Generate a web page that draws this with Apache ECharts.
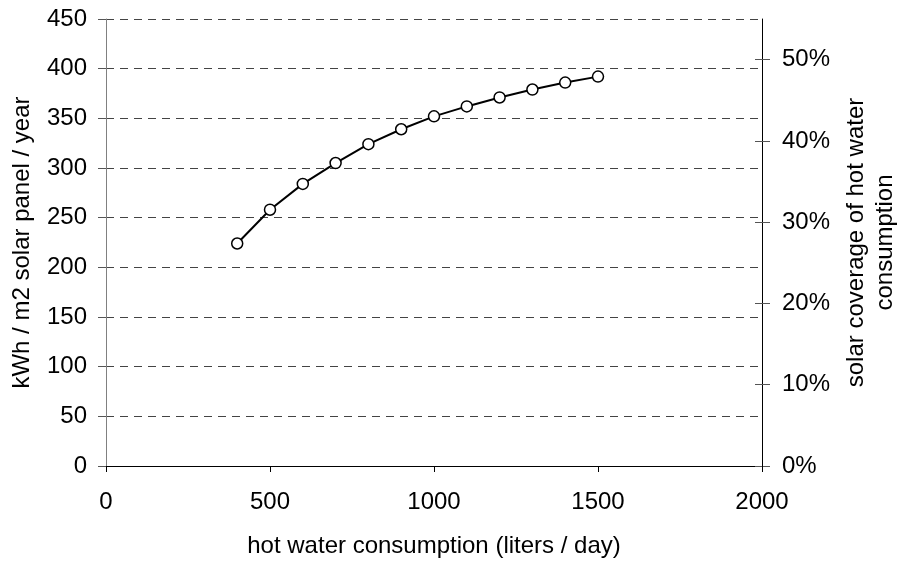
<!DOCTYPE html>
<html>
<head>
<meta charset="utf-8">
<script src="https://cdn.jsdelivr.net/npm/echarts@6/dist/echarts.min.js"></script>
<style>
  html, body { margin: 0; padding: 0; background: #fff; }
  #main { width: 901px; height: 561px; }
</style>
</head>
<body>
<div id="main"></div>
<script>
// hot water consumption (liters / day)
var litersPerDay = [400, 500, 600, 700, 800, 900, 1000, 1100, 1200, 1300, 1400, 1500];
// kWh / m2 solar panel / year
var kwhPerM2 = [224, 258, 284, 305, 324, 339, 352, 362, 371, 379, 386, 392];
// right axis ticks (percent)
var coverageTicks = [0, 10, 20, 30, 40, 50];

var FONT = 'Liberation Sans, Arial, sans-serif';
var FS = 24;

var chart = echarts.init(document.getElementById('main'), null, { renderer: 'canvas' });

var points = litersPerDay.map(function(x, i) {
    return [x, kwhPerM2[i]];
});

var option = {
    backgroundColor: '#fff',
    animation: false,
    textStyle: { fontFamily: FONT, color: '#000' },
    grid: {
        left: 106,
        right: 139,
        top: 19,
        bottom: 95,
        containLabel: false,
        outerBoundsMode: 'none'
    },
    xAxis: {
        type: 'value',
        min: 0,
        max: 2000,
        interval: 500,
        name: 'hot water consumption (liters / day)',
        nameLocation: 'middle',
        nameGap: 68,
        nameTextStyle: { fontFamily: FONT, fontSize: FS, color: '#000' },
        axisLine: { show: true, onZero: false, lineStyle: { color: '#000', width: 1 } },
        axisTick: { show: true, inside: false, length: 6, lineStyle: { color: '#000' } },
        axisLabel: {
            margin: 24, fontFamily: FONT, fontSize: FS, color: '#000',
            formatter: function(v) { return String(v); }
        },
        splitLine: { show: false }
    },
    yAxis: [
        {
            type: 'value',
            position: 'left',
            min: 0,
            max: 450,
            interval: 50,
            name: 'kWh / m2 solar panel / year',
            nameLocation: 'middle',
            nameGap: 72,
            nameTextStyle: { fontFamily: FONT, fontSize: FS, color: '#000' },
            axisLine: { show: true, lineStyle: { color: '#808080', width: 1 } },
            axisTick: { show: true, inside: false, length: 8, lineStyle: { color: '#555' } },
            axisLabel: { margin: 19, fontFamily: FONT, fontSize: FS, color: '#000' },
            splitLine: {
                show: true,
                lineStyle: { color: '#444', width: 1, type: [8, 6] }
            }
        },
        {
            type: 'value',
            position: 'right',
            min: 0,
            max: 55,
            name: 'solar coverage of hot water\nconsumption',
            nameLocation: 'middle',
            nameGap: 80,
            nameTextStyle: { fontFamily: FONT, fontSize: FS, color: '#000', lineHeight: 29, align: 'center' },
            axisLine: { show: true, lineStyle: { color: '#000', width: 1 } },
            axisTick: {
                show: true, inside: false, length: 8,
                customValues: coverageTicks,
                lineStyle: { color: '#555' }
            },
            axisLabel: {
                margin: 20, fontFamily: FONT, fontSize: FS, color: '#000',
                customValues: coverageTicks,
                formatter: function(v) { return Math.round(v) + '%'; }
            },
            splitLine: { show: false }
        },
        {
            // inner half of the crossing ticks on the right axis
            type: 'value',
            position: 'right',
            min: 0,
            max: 55,
            axisLine: { show: false },
            axisTick: {
                show: true, inside: true, length: 7,
                customValues: coverageTicks,
                lineStyle: { color: '#555' }
            },
            axisLabel: { show: false },
            splitLine: { show: false }
        }
    ],
    series: [
        {
            type: 'line',
            yAxisIndex: 0,
            data: points,
            symbol: 'circle',
            symbolSize: 11,
            showAllSymbol: true,
            lineStyle: { color: '#000', width: 2 },
            itemStyle: { color: '#fff', borderColor: '#000', borderWidth: 1.5 },
            emphasis: { disabled: true }
        }
    ]
};

chart.setOption(option);
</script>
</body>
</html>
